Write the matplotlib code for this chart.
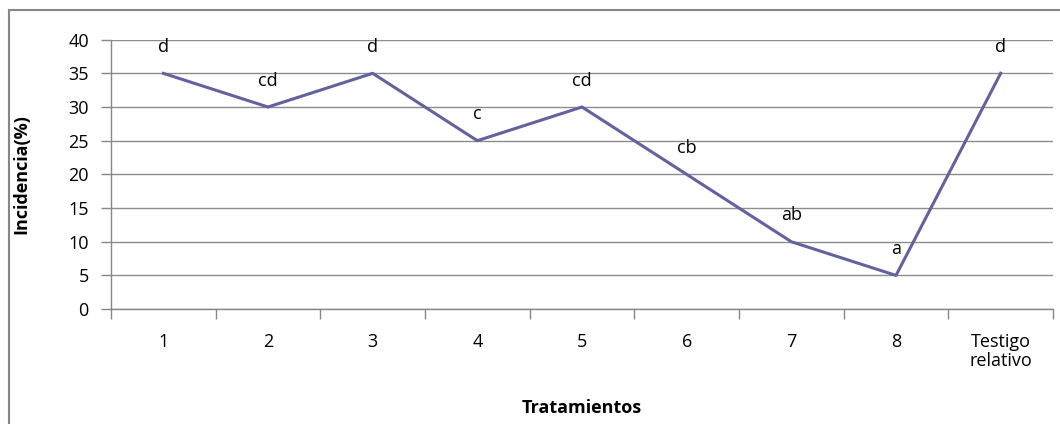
import matplotlib.pyplot as plt
from matplotlib.patches import Rectangle

# Datos
tratamientos = ['1', '2', '3', '4', '5', '6', '7', '8', 'Testigo\nrelativo']
incidencia = [35, 30, 35, 25, 30, 20, 10, 5, 35]
letras = ['d', 'cd', 'd', 'c', 'cd', 'cb', 'ab', 'a', 'd']

plt.rcParams['font.family'] = ['Open Sans', 'DejaVu Sans']

fig = plt.figure(figsize=(10.6, 4.24), dpi=100)
ax = fig.add_axes([0.1047, 0.271, 0.8887, 0.6355])

x = list(range(len(tratamientos)))
ax.plot(x, incidencia, color='#62629E', linewidth=2.2)

# Letras de significancia encima de cada punto
for xi, yi, txt in zip(x, incidencia, letras):
    ax.annotate(txt, (xi, yi), xytext=(0, 19), textcoords='offset points',
                ha='center', va='center', fontsize=13)

ax.set_xlim(-0.5, len(tratamientos) - 0.5)
ax.set_ylim(0, 40)
ax.set_yticks(range(0, 41, 5))
ax.set_xticks(x)
ax.set_xticklabels(tratamientos, fontsize=13, va='top', linespacing=1.1)
ax.set_xticks([i - 0.5 for i in range(len(tratamientos) + 1)], minor=True)
ax.tick_params(axis='x', which='major', length=0, pad=17)
ax.tick_params(axis='x', which='minor', length=7, color='#868686', width=1)
ax.tick_params(axis='y', length=7, color='#868686', width=1, labelsize=13, pad=9)

ax.grid(axis='y', color='#8c8c8c', linewidth=1)
ax.set_axisbelow(True)
for s in ['top', 'right']:
    ax.spines[s].set_visible(False)
for s in ['left', 'bottom']:
    ax.spines[s].set_color('#868686')
    ax.spines[s].set_linewidth(1)

ax.set_ylabel('Incidencia(%)', fontsize=13, fontweight='bold', labelpad=27)
ax.set_xlabel('Tratamientos', fontsize=13, fontweight='bold', labelpad=21)

# Marco exterior
fig.patches.append(Rectangle((9 / 1060, -0.2), 1.2, 0.2 + 1 - 10 / 424,
                             transform=fig.transFigure, fill=False,
                             edgecolor='#868686', linewidth=1.5))

fig.savefig('out.png', dpi=100)
